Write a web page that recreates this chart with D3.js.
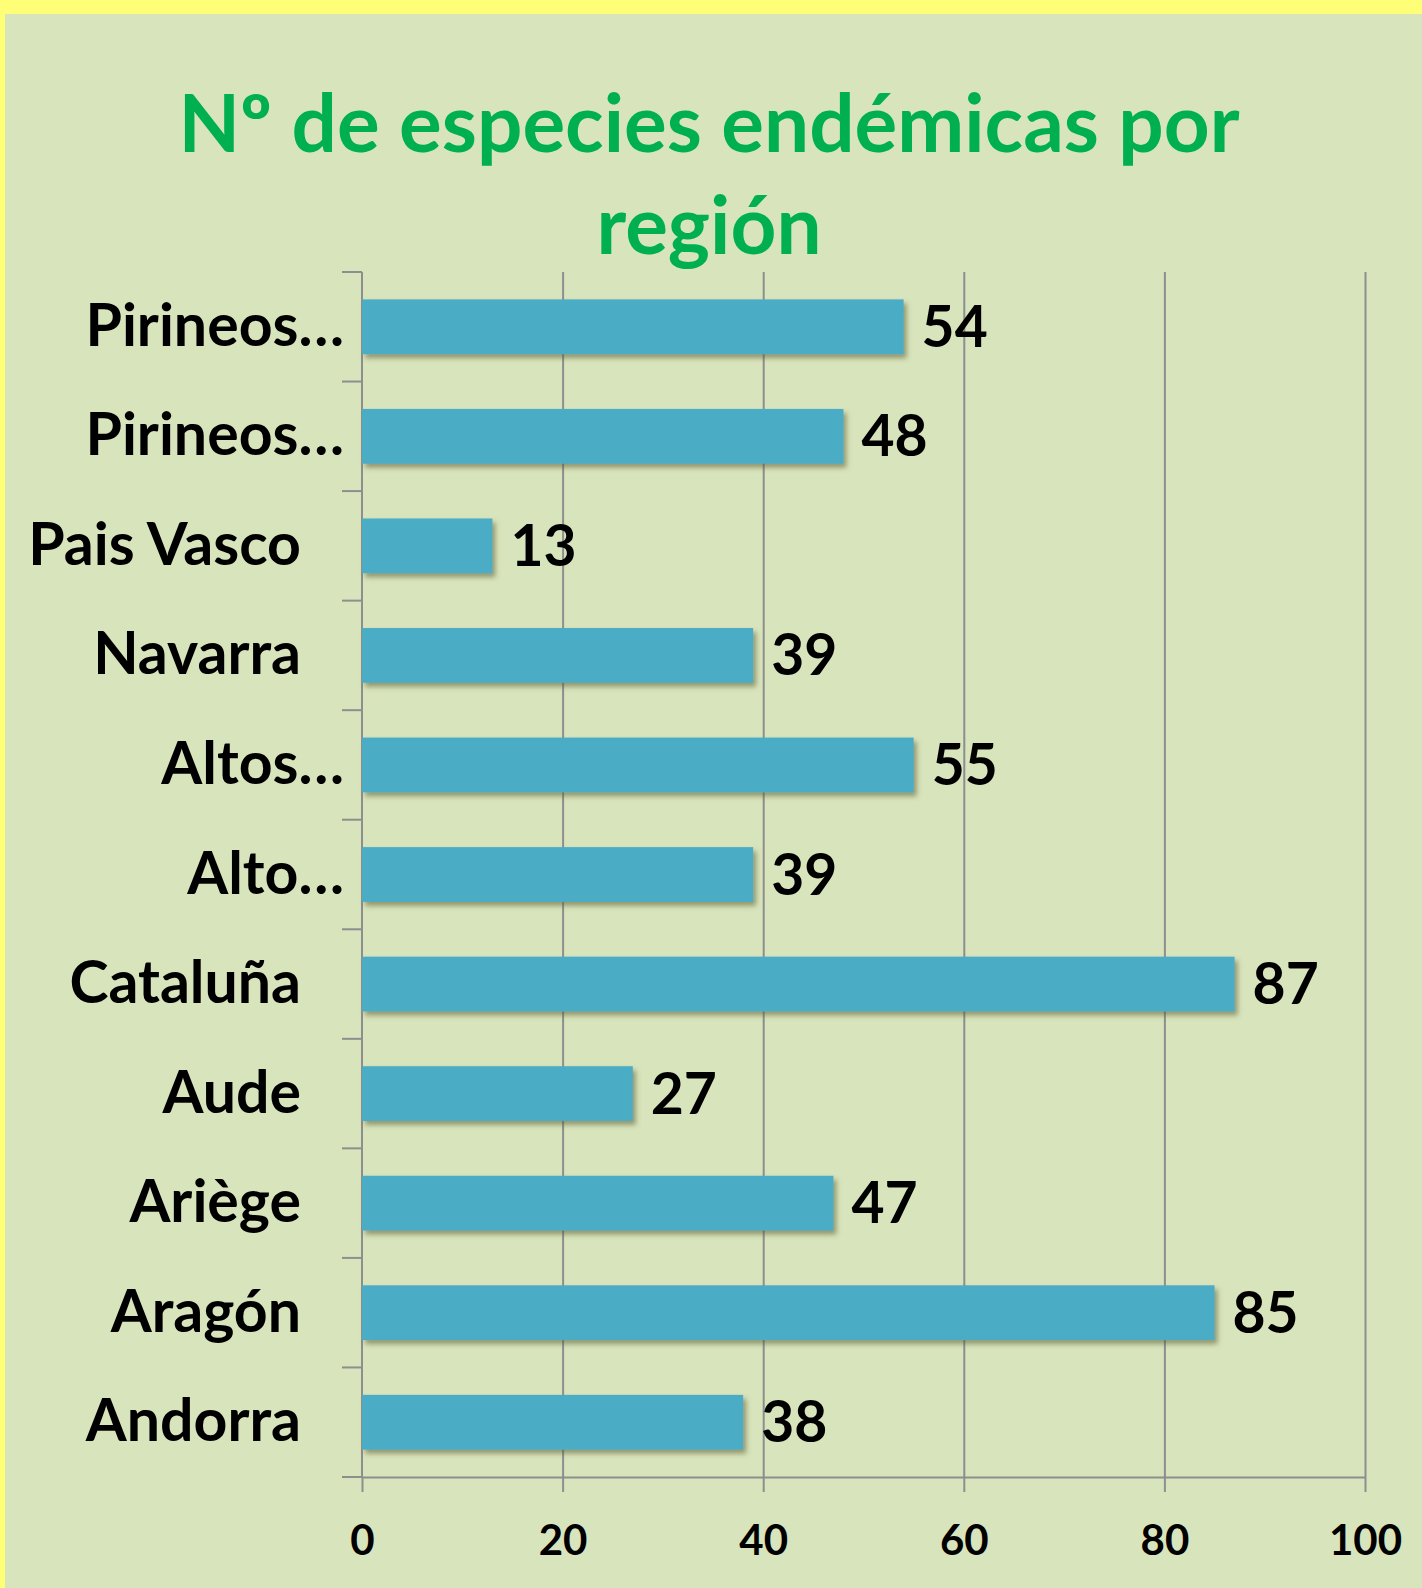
<!DOCTYPE html>
<html>
<head>
<meta charset="utf-8">
<script src="https://cdn.jsdelivr.net/npm/d3@7"></script>
<style>
  html, body { margin: 0; padding: 0; }
  body { width: 1422px; height: 1588px; overflow: hidden; background: #d8e4bc; }
  #chart { position: absolute; left: 0; top: 0; }
</style>
</head>
<body>
<div id="chart"></div>
<script>
// data, top to bottom
var regions = ["Pirineos…", "Pirineos…", "Pais Vasco", "Navarra", "Altos…", "Alto…",
               "Cataluña", "Aude", "Ariège", "Aragón", "Andorra"];
var species = [54, 48, 13, 39, 55, 39, 87, 27, 47, 85, 38];
var xTicks = [0, 20, 40, 60, 80, 100];
var titleLines = ["Nº de especies endémicas por", "región"];

var W = 1422, H = 1588;
var margin = {top: 272, right: 57, bottom: 111, left: 362},
    width = W - margin.left - margin.right,
    height = H - margin.top - margin.bottom;

var root = d3.select("#chart")
    .append("svg")
    .attr("width", W)
    .attr("height", H)
    .style("font-family", "Lato, 'Open Sans', sans-serif")
    .style("font-weight", "bold");

// page frame: yellow strip top and left
root.append("rect").attr("x", 0).attr("y", 0).attr("width", W).attr("height", H).attr("fill", "#fffe77");
root.append("rect").attr("x", 5).attr("y", 14).attr("width", W - 5).attr("height", H - 14).attr("fill", "#d8e4bc");

var defs = root.append("defs");
var f = defs.append("filter").attr("id", "shadow")
    .attr("x", "-5%").attr("y", "-20%").attr("width", "115%").attr("height", "160%");
f.append("feDropShadow").attr("dx", 3).attr("dy", 4).attr("stdDeviation", 2.5)
    .attr("flood-color", "#5a5a30").attr("flood-opacity", 0.55);

// title
root.selectAll("text.title")
    .data(titleLines)
    .enter().append("text")
    .attr("class", "title")
    .attr("x", 709)
    .attr("y", function (d, i) { return 152 + i * 102; })
    .attr("text-anchor", "middle")
    .attr("fill", "#00b050")
    .style("font-size", "80px")
    .text(function (d) { return d; });

var svg = root.append("g")
    .attr("transform", "translate(" + margin.left + "," + margin.top + ")");

var x = d3.scaleLinear()
    .domain([0, 100])
    .range([0, width]);

var y = d3.scaleBand()
    .domain(d3.range(regions.length))
    .range([0, height])
    .paddingInner(0.5)
    .paddingOuter(0.25);

var grey = "#8e8e8e";

// gridlines
svg.append("g")
    .attr("class", "grid")
    .call(d3.axisBottom(x).tickValues(xTicks.slice(1)).tickSize(height).tickFormat(""))
    .call(function (g) { g.select(".domain").remove(); })
    .selectAll("line").attr("stroke", grey).attr("stroke-width", 2);

// x axis
svg.append("g")
    .attr("transform", "translate(0," + height + ")")
    .attr("class", "myXaxis")
    .call(d3.axisBottom(x).tickValues(xTicks).tickSize(15).tickSizeOuter(0).tickPadding(33))
    .call(function (g) {
        g.select(".domain").attr("stroke", grey).attr("stroke-width", 2);
        g.selectAll("line").attr("stroke", grey).attr("stroke-width", 2);
        g.selectAll("text").attr("fill", "#000").style("font-size", "42px")
            .style("font-family", "Lato, 'Open Sans', sans-serif").style("font-weight", "bold");
    });

// y axis line and category boundary ticks
svg.append("line")
    .attr("x1", 0).attr("x2", 0).attr("y1", 0).attr("y2", height)
    .attr("stroke", grey).attr("stroke-width", 2);

svg.selectAll("line.ytick")
    .data(d3.range(regions.length + 1))
    .enter().append("line")
    .attr("class", "ytick")
    .attr("x1", -20).attr("x2", 0)
    .attr("y1", function (d) { return d * y.step(); })
    .attr("y2", function (d) { return d * y.step(); })
    .attr("stroke", grey).attr("stroke-width", 2);

// bars
svg.selectAll(".bar")
    .data(species)
    .enter()
    .append("rect")
    .attr("class", "bar")
    .attr("x", x(0))
    .attr("y", function (d, i) { return y(i); })
    .attr("width", function (d) { return x(d) - x(0); })
    .attr("height", y.bandwidth())
    .attr("fill", "#4bacc6")
    .attr("filter", "url(#shadow)");

// value labels
svg.selectAll("text.bartext")
    .data(species)
    .enter().append("text")
    .attr("class", "bartext")
    .attr("x", function (d) { return x(d) + 18; })
    .attr("y", function (d, i) { return y(i) + y.bandwidth() / 2 + 20; })
    .style("font-size", "57px")
    .text(function (d) { return d; });

// category labels
svg.selectAll("text.cat")
    .data(regions)
    .enter().append("text")
    .attr("class", "cat")
    .attr("text-anchor", "end")
    .attr("x", function (d) { return d.slice(-1) === "…" ? -18 : -61; })
    .attr("y", function (d, i) { return y(i) + y.bandwidth() / 2 + 19; })
    .style("font-size", "59px")
    .text(function (d) { return d; });
</script>
</body>
</html>
